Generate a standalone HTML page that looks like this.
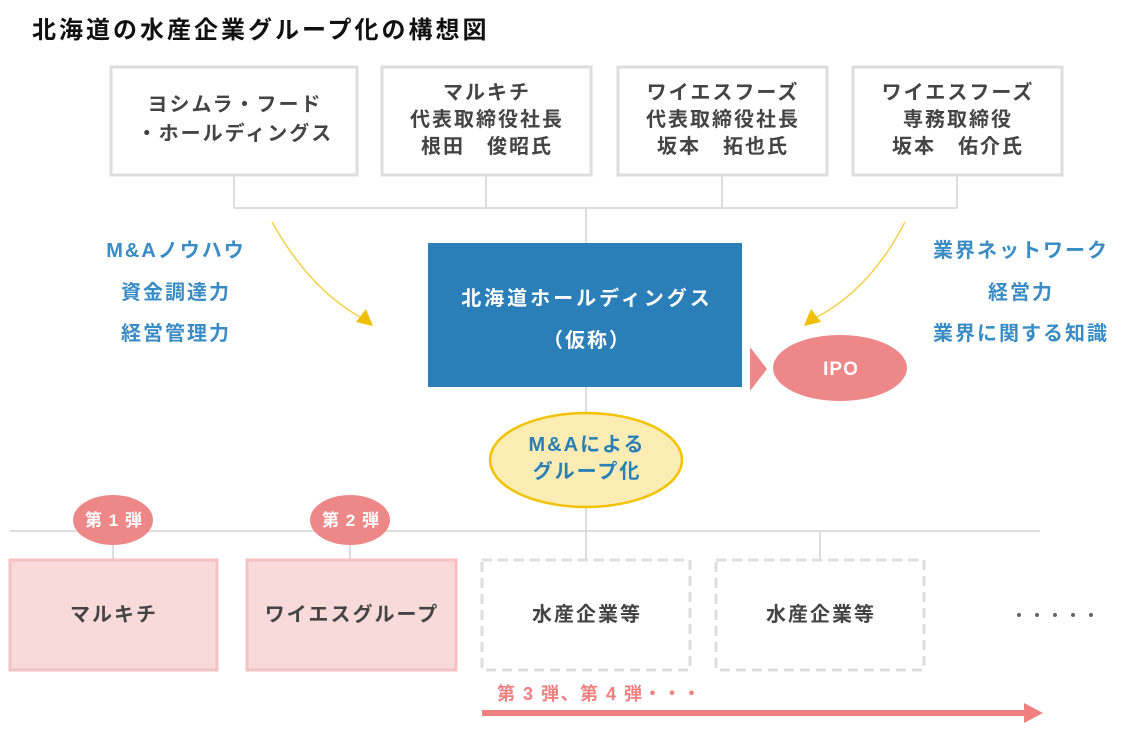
<!DOCTYPE html>
<html><head><meta charset="utf-8"><style>
body{margin:0;background:#fff;width:1132px;height:736px;overflow:hidden}
svg text{font-family:"Liberation Sans","Noto Sans CJK JP",sans-serif;font-weight:bold;letter-spacing:2px}
</style></head><body>
<svg width="1132" height="736" viewBox="0 0 1132 736">
<text x="32" y="38" font-size="24" fill="#111" style="letter-spacing:3px">北海道の水産企業グループ化の構想図</text>
<g fill="none" stroke="#ddd" stroke-width="2">
<path d="M234 176V208M486 176V208M722 176V208M957 176V208M234 208H957M586 208V243"/>
<path d="M586 387V414M586 507V531M10 531H1040M113 545V560M350 545V560M586 531V560M820 531V560"/>
</g>
<g fill="#fff" stroke="#ddd" stroke-width="3">
<rect x="111" y="67" width="246" height="108"/>
<rect x="382" y="67" width="209" height="108"/>
<rect x="618" y="67" width="209" height="108"/>
<rect x="853" y="67" width="209" height="108"/>
</g>
<g font-size="20" fill="#444" text-anchor="middle">
<text x="235" y="111">ヨシムラ・フード</text><text x="235" y="140">・ホールディングス</text>
<text x="487" y="99">マルキチ</text><text x="487" y="126">代表取締役社長</text><text x="487" y="153">根田　俊昭氏</text>
<text x="723" y="99">ワイエスフーズ</text><text x="723" y="126">代表取締役社長</text><text x="723" y="153">坂本　拓也氏</text>
<text x="958" y="99">ワイエスフーズ</text><text x="958" y="126">専務取締役</text><text x="958" y="153">坂本　佑介氏</text>
</g>
<g font-size="20" fill="#3a8cc4" text-anchor="middle">
<text x="176" y="257">M&amp;Aノウハウ</text><text x="176" y="299">資金調達力</text><text x="176" y="340">経営管理力</text>
<text x="1021" y="257">業界ネットワーク</text><text x="1021" y="299">経営力</text><text x="1021" y="340">業界に関する知識</text>
</g>
<path d="M272 222Q310 290 362 318" fill="none" stroke="#f5d04a" stroke-width="1.5"/>
<polygon points="373,326 356,322 366,309" fill="#f0c000"/>
<path d="M905 222Q870 290 815 318" fill="none" stroke="#f5d04a" stroke-width="1.5"/>
<polygon points="804,326 811,309 821,322" fill="#f0c000"/>
<rect x="428" y="243" width="314" height="144" fill="#2a7fb8"/>
<text x="587" y="305" font-size="20" fill="#fff" text-anchor="middle" style="letter-spacing:3px">北海道ホールディングス</text>
<text x="587" y="347" font-size="20" fill="#fff" text-anchor="middle">（仮称）</text>
<polygon points="750,347 767,369 750,391" fill="#ee8888"/>
<ellipse cx="840" cy="368" rx="67" ry="33" fill="#ee8888"/>
<text x="841" y="375" font-size="19" fill="#fff" text-anchor="middle" style="letter-spacing:1px">IPO</text>
<ellipse cx="586" cy="460" rx="96" ry="47" fill="#fbecb4" stroke="#f2c200" stroke-width="2.5"/>
<text x="587" y="451" font-size="20" fill="#2a7fb8" text-anchor="middle">M&amp;Aによる</text>
<text x="587" y="478" font-size="20" fill="#2a7fb8" text-anchor="middle">グループ化</text>
<ellipse cx="113" cy="520" rx="40" ry="25" fill="#ee8888"/>
<ellipse cx="350" cy="520" rx="40" ry="25" fill="#ee8888"/>
<text x="114" y="526" font-size="17" fill="#fff" text-anchor="middle" style="letter-spacing:1px">第 1 弾</text>
<text x="351" y="526" font-size="17" fill="#fff" text-anchor="middle" style="letter-spacing:1px">第 2 弾</text>
<rect x="10" y="560" width="207" height="110" fill="#f9dadb" stroke="#f5c2c4" stroke-width="3"/>
<rect x="247" y="560" width="209" height="110" fill="#f9dadb" stroke="#f5c2c4" stroke-width="3"/>
<rect x="482" y="560" width="208" height="110" fill="#fff" stroke="#ddd" stroke-width="3" stroke-dasharray="10,6"/>
<rect x="716" y="560" width="208" height="110" fill="#fff" stroke="#ddd" stroke-width="3" stroke-dasharray="10,6"/>
<g font-size="20" fill="#444" text-anchor="middle">
<text x="114" y="621">マルキチ</text><text x="352" y="621">ワイエスグループ</text>
<text x="587" y="621">水産企業等</text><text x="821" y="621">水産企業等</text>
</g>
<text x="1056" y="621" font-size="16" fill="#666" text-anchor="middle">・・・・・</text>
<text x="497" y="700" font-size="18" fill="#ee8080" style="letter-spacing:1.5px">第 3 弾、第 4 弾・・・</text>
<rect x="482" y="710" width="545" height="6" fill="#ee8080"/>
<polygon points="1024,703 1043,713 1024,723" fill="#ee8080"/>
</svg>
</body></html>
